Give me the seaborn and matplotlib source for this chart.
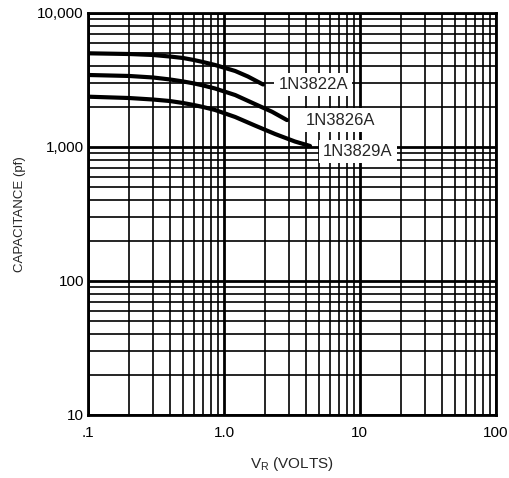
import matplotlib
matplotlib.use("Agg")
import matplotlib.pyplot as plt
import seaborn as sns
import pandas as pd
from matplotlib.ticker import FixedLocator, FixedFormatter, LogLocator, NullFormatter

# ---- data ----
v_3822 = [0.1, 0.2, 0.3, 0.4, 0.5, 0.6, 0.7, 0.86, 1.21, 1.5, 1.94]
c_3822 = [4995, 4935, 4853, 4727, 4607, 4452, 4301, 4087, 3685, 3353, 2922]

v_3826 = [0.1, 0.2, 0.3, 0.4, 0.5, 0.6, 0.7, 0.86, 1.21, 1.69, 2.26, 2.91]
c_3826 = [3441, 3384, 3297, 3187, 3080, 2977, 2877, 2728, 2438, 2089, 1829, 1585]

v_3829 = [0.1, 0.2, 0.3, 0.4, 0.5, 0.6, 0.7, 0.86, 1.21, 1.69, 2.38, 3.33, 4.3]
c_3829 = [2370, 2317, 2258, 2200, 2126, 2054, 1986, 1886, 1672, 1444, 1248, 1097, 1016]

series_names = ["1N3822A", "1N3826A", "1N3829A"]

x_ticks = [0.1, 1.0, 10, 100]
x_tick_labels = [".1", "1.0", "10", "100"]
y_ticks = [10, 100, 1000, 10000]
y_tick_labels = ["10", "100", "1,000", "10,000"]

# ---- figure ----
sns.set_style("white")
plt.rcParams["font.family"] = ["Liberation Sans", "DejaVu Sans"]

fig = plt.figure(figsize=(5.09, 4.78), dpi=100)
ax = fig.add_axes([0.173, 0.132, 0.801, 0.841])

frames = []
for name, v, c in zip(series_names, [v_3822, v_3826, v_3829], [c_3822, c_3826, c_3829]):
    frames.append(pd.DataFrame({"V": v, "C": c, "part": name}))
df = pd.concat(frames, ignore_index=True)

sns.lineplot(data=df, x="V", y="C", units="part", estimator=None,
             color="black", linewidth=3.0, ax=ax, zorder=5, legend=False)
for line in ax.get_lines():
    line.set_solid_joinstyle("round")
    line.set_solid_capstyle("round")

ax.set_xscale("log")
ax.set_yscale("log")
ax.set_xlim(0.1, 100)
ax.set_ylim(10, 10000)

ax.xaxis.set_major_locator(FixedLocator(x_ticks))
ax.xaxis.set_major_formatter(FixedFormatter(x_tick_labels))
ax.yaxis.set_major_locator(FixedLocator(y_ticks))
ax.yaxis.set_major_formatter(FixedFormatter(y_tick_labels))
ax.xaxis.set_minor_locator(LogLocator(base=10, subs=range(2, 10)))
ax.yaxis.set_minor_locator(LogLocator(base=10, subs=range(2, 10)))
ax.xaxis.set_minor_formatter(NullFormatter())
ax.yaxis.set_minor_formatter(NullFormatter())

ax.grid(True, which="major", color="black", linewidth=2.0)
ax.grid(True, which="minor", color="black", linewidth=1.2)
ax.set_axisbelow(True)

ax.tick_params(which="both", length=0, labelsize=11, colors="black")
ax.tick_params(axis="x", pad=8)
ax.tick_params(axis="y", pad=3)

for s in ax.spines.values():
    s.set_visible(True)
    s.set_color("black")
    s.set_linewidth(2.0)
    s.set_zorder(6)

ax.set_xlabel(r"V$_\mathregular{R}$ (VOLTS)", fontsize=11, labelpad=11)
ax.set_ylabel("CAPACITANCE (pf)", fontsize=9.5, labelpad=8)

# ---- curve labels ----
ends = [(v_3822[-1], c_3822[-1]), (v_3826[-1], c_3826[-1]), (v_3829[-1], c_3829[-1])]
offsets = [(1.30, 1.0), (1.38, 1.0), (1.24, 0.905)]
for name, (xe, ye), (fx, fy) in zip(series_names, ends, offsets):
    ax.text(xe * fx, ye * fy, name, fontsize=12, ha="left", va="center",
            zorder=7,
            bbox=dict(boxstyle="square,pad=0.25", facecolor="white", edgecolor="none"))

fig.savefig("out.png", dpi=100)
